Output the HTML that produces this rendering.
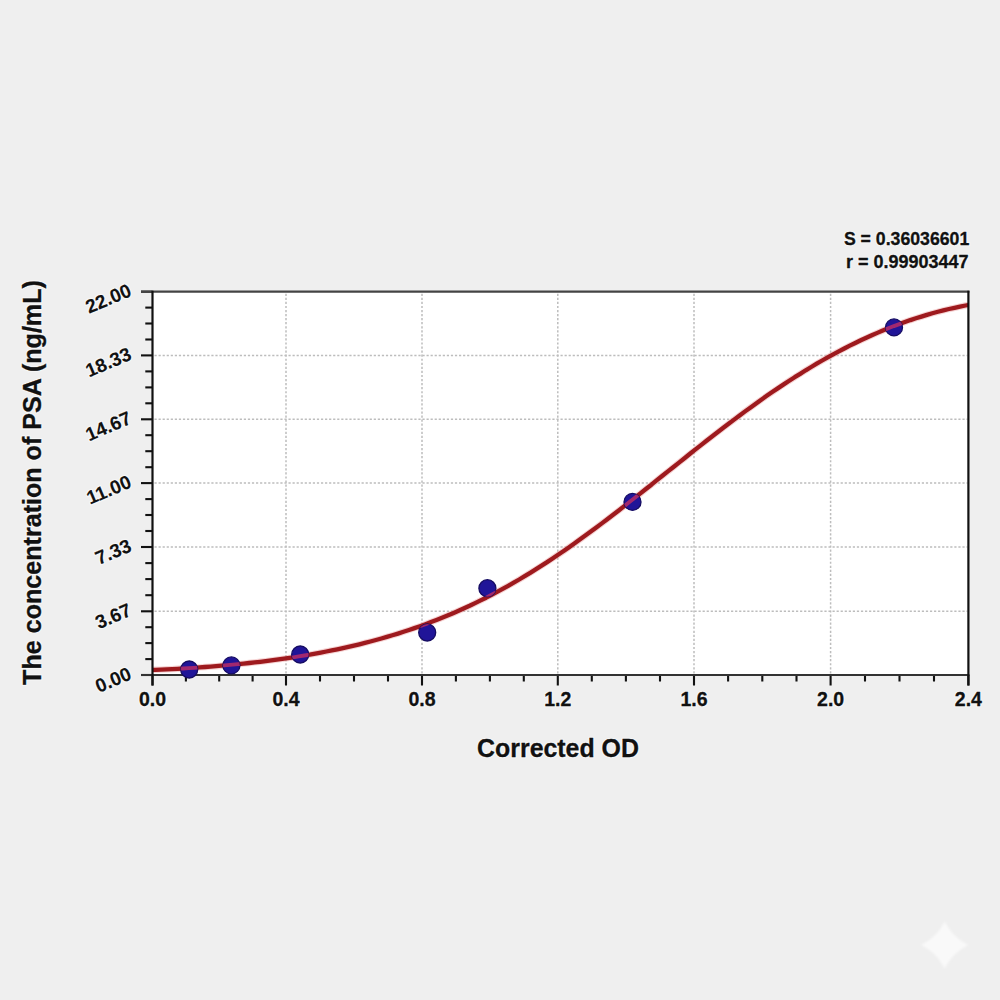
<!DOCTYPE html>
<html><head><meta charset="utf-8"><style>
html,body{margin:0;padding:0;background:#efefef;}
svg{display:block;}
text{font-family:"Liberation Sans",Arial,sans-serif;font-weight:bold;fill:#111;stroke:#111;stroke-width:0.3px;}
.grid{stroke:#bdbdbd;stroke-width:1.5;stroke-dasharray:2.2 1.86;}
.tk{stroke:#111;stroke-width:2.1;}
.xl{font-size:19.5px;text-anchor:middle;}
.yl{font-size:19px;text-anchor:end;dominant-baseline:central;stroke-width:0.1px;}
.xt{font-size:24.9px;text-anchor:middle;}
.yt{font-size:25.1px;text-anchor:middle;}
.st{font-size:18px;text-anchor:end;}
</style></head><body>
<svg width="1000" height="1000" viewBox="0 0 1000 1000">
<rect width="1000" height="1000" fill="#efefef"/>
<rect x="152.5" y="291.7" width="815.9" height="383.3" fill="#ffffff"/>
<line x1="286" y1="293.7" x2="286" y2="674" class="grid"/>
<line x1="422" y1="293.7" x2="422" y2="674" class="grid"/>
<line x1="557.8" y1="293.7" x2="557.8" y2="674" class="grid"/>
<line x1="694" y1="293.7" x2="694" y2="674" class="grid"/>
<line x1="830.6" y1="293.7" x2="830.6" y2="674" class="grid"/>
<line x1="154.5" y1="611.3" x2="967.4" y2="611.3" class="grid"/>
<line x1="154.5" y1="547" x2="967.4" y2="547" class="grid"/>
<line x1="154.5" y1="483.1" x2="967.4" y2="483.1" class="grid"/>
<line x1="154.5" y1="419.3" x2="967.4" y2="419.3" class="grid"/>
<line x1="154.5" y1="355.4" x2="967.4" y2="355.4" class="grid"/>
<clipPath id="pc"><rect x="152.5" y="291.7" width="815.9" height="383.3"/></clipPath>
<path d="M150.0,670.0 L155.5,669.8 L161.0,669.6 L166.5,669.3 L172.0,669.1 L177.6,668.8 L183.1,668.5 L188.6,668.1 L194.1,667.8 L199.6,667.4 L205.1,667.0 L210.6,666.6 L216.1,666.2 L221.6,665.7 L227.1,665.2 L232.7,664.7 L238.2,664.2 L243.7,663.6 L249.2,663.0 L254.7,662.4 L260.2,661.8 L265.7,661.1 L271.2,660.4 L276.7,659.6 L282.2,658.9 L287.8,658.1 L293.3,657.3 L298.8,656.4 L304.3,655.5 L309.8,654.6 L315.3,653.6 L320.8,652.6 L326.3,651.5 L331.8,650.4 L337.3,649.3 L342.9,648.1 L348.4,646.9 L353.9,645.6 L359.4,644.3 L364.9,642.9 L370.4,641.5 L375.9,640.0 L381.4,638.5 L386.9,636.9 L392.4,635.3 L398.0,633.6 L403.5,631.8 L409.0,630.0 L414.5,628.1 L420.0,626.2 L425.5,624.2 L431.0,622.1 L436.5,620.0 L442.0,617.8 L447.5,615.5 L453.1,613.2 L458.6,610.8 L464.1,608.3 L469.6,605.8 L475.1,603.1 L480.6,600.4 L486.1,597.7 L491.6,594.8 L497.1,591.9 L502.6,588.9 L508.2,585.8 L513.7,582.7 L519.2,579.5 L524.7,576.2 L530.2,572.8 L535.7,569.4 L541.2,565.9 L546.7,562.4 L552.2,558.7 L557.7,555.0 L563.3,551.3 L568.8,547.4 L574.3,543.6 L579.8,539.6 L585.3,535.6 L590.8,531.6 L596.3,527.5 L601.8,523.4 L607.3,519.2 L612.8,515.0 L618.4,510.7 L623.9,506.4 L629.4,502.1 L634.9,497.8 L640.4,493.4 L645.9,489.0 L651.4,484.7 L656.9,480.2 L662.4,475.8 L667.9,471.4 L673.5,467.0 L679.0,462.6 L684.5,458.2 L690.0,453.8 L695.5,449.4 L701.0,445.1 L706.5,440.8 L712.0,436.5 L717.5,432.2 L723.0,428.0 L728.6,423.8 L734.1,419.6 L739.6,415.5 L745.1,411.4 L750.6,407.4 L756.1,403.4 L761.6,399.5 L767.1,395.6 L772.6,391.8 L778.1,388.1 L783.7,384.4 L789.2,380.8 L794.7,377.2 L800.2,373.8 L805.7,370.3 L811.2,367.0 L816.7,363.7 L822.2,360.5 L827.7,357.4 L833.2,354.4 L838.8,351.4 L844.3,348.5 L849.8,345.7 L855.3,343.0 L860.8,340.3 L866.3,337.8 L871.8,335.3 L877.3,332.9 L882.8,330.5 L888.3,328.3 L893.9,326.1 L899.4,324.1 L904.9,322.1 L910.4,320.1 L915.9,318.3 L921.4,316.6 L926.9,314.9 L932.4,313.3 L937.9,311.8 L943.4,310.4 L949.0,309.0 L954.5,307.8 L960.0,306.6 L965.5,305.5 L971.0,304.5" clip-path="url(#pc)" fill="none" stroke="#eaa0a0" stroke-opacity="0.45" stroke-width="6.4" stroke-linejoin="round"/>
<path d="M150.0,670.0 L155.5,669.8 L161.0,669.6 L166.5,669.3 L172.0,669.1 L177.6,668.8 L183.1,668.5 L188.6,668.1 L194.1,667.8 L199.6,667.4 L205.1,667.0 L210.6,666.6 L216.1,666.2 L221.6,665.7 L227.1,665.2 L232.7,664.7 L238.2,664.2 L243.7,663.6 L249.2,663.0 L254.7,662.4 L260.2,661.8 L265.7,661.1 L271.2,660.4 L276.7,659.6 L282.2,658.9 L287.8,658.1 L293.3,657.3 L298.8,656.4 L304.3,655.5 L309.8,654.6 L315.3,653.6 L320.8,652.6 L326.3,651.5 L331.8,650.4 L337.3,649.3 L342.9,648.1 L348.4,646.9 L353.9,645.6 L359.4,644.3 L364.9,642.9 L370.4,641.5 L375.9,640.0 L381.4,638.5 L386.9,636.9 L392.4,635.3 L398.0,633.6 L403.5,631.8 L409.0,630.0 L414.5,628.1 L420.0,626.2 L425.5,624.2 L431.0,622.1 L436.5,620.0 L442.0,617.8 L447.5,615.5 L453.1,613.2 L458.6,610.8 L464.1,608.3 L469.6,605.8 L475.1,603.1 L480.6,600.4 L486.1,597.7 L491.6,594.8 L497.1,591.9 L502.6,588.9 L508.2,585.8 L513.7,582.7 L519.2,579.5 L524.7,576.2 L530.2,572.8 L535.7,569.4 L541.2,565.9 L546.7,562.4 L552.2,558.7 L557.7,555.0 L563.3,551.3 L568.8,547.4 L574.3,543.6 L579.8,539.6 L585.3,535.6 L590.8,531.6 L596.3,527.5 L601.8,523.4 L607.3,519.2 L612.8,515.0 L618.4,510.7 L623.9,506.4 L629.4,502.1 L634.9,497.8 L640.4,493.4 L645.9,489.0 L651.4,484.7 L656.9,480.2 L662.4,475.8 L667.9,471.4 L673.5,467.0 L679.0,462.6 L684.5,458.2 L690.0,453.8 L695.5,449.4 L701.0,445.1 L706.5,440.8 L712.0,436.5 L717.5,432.2 L723.0,428.0 L728.6,423.8 L734.1,419.6 L739.6,415.5 L745.1,411.4 L750.6,407.4 L756.1,403.4 L761.6,399.5 L767.1,395.6 L772.6,391.8 L778.1,388.1 L783.7,384.4 L789.2,380.8 L794.7,377.2 L800.2,373.8 L805.7,370.3 L811.2,367.0 L816.7,363.7 L822.2,360.5 L827.7,357.4 L833.2,354.4 L838.8,351.4 L844.3,348.5 L849.8,345.7 L855.3,343.0 L860.8,340.3 L866.3,337.8 L871.8,335.3 L877.3,332.9 L882.8,330.5 L888.3,328.3 L893.9,326.1 L899.4,324.1 L904.9,322.1 L910.4,320.1 L915.9,318.3 L921.4,316.6 L926.9,314.9 L932.4,313.3 L937.9,311.8 L943.4,310.4 L949.0,309.0 L954.5,307.8 L960.0,306.6 L965.5,305.5 L971.0,304.5" clip-path="url(#pc)" fill="none" stroke="#9e1a1e" stroke-width="4.3" stroke-linejoin="round"/>
<line x1="185.9" y1="675" x2="185.9" y2="681.5" class="tk"/>
<line x1="219.2" y1="675" x2="219.2" y2="681.5" class="tk"/>
<line x1="252.6" y1="675" x2="252.6" y2="681.5" class="tk"/>
<line x1="145.3" y1="659.1" x2="152.5" y2="659.1" class="tk"/>
<line x1="145.3" y1="643.1" x2="152.5" y2="643.1" class="tk"/>
<line x1="145.3" y1="627.2" x2="152.5" y2="627.2" class="tk"/>
<line x1="320.0" y1="675" x2="320.0" y2="681.5" class="tk"/>
<line x1="354.0" y1="675" x2="354.0" y2="681.5" class="tk"/>
<line x1="388.0" y1="675" x2="388.0" y2="681.5" class="tk"/>
<line x1="145.3" y1="595.2" x2="152.5" y2="595.2" class="tk"/>
<line x1="145.3" y1="579.1" x2="152.5" y2="579.1" class="tk"/>
<line x1="145.3" y1="563.1" x2="152.5" y2="563.1" class="tk"/>
<line x1="455.9" y1="675" x2="455.9" y2="681.5" class="tk"/>
<line x1="489.9" y1="675" x2="489.9" y2="681.5" class="tk"/>
<line x1="523.8" y1="675" x2="523.8" y2="681.5" class="tk"/>
<line x1="145.3" y1="531.0" x2="152.5" y2="531.0" class="tk"/>
<line x1="145.3" y1="515.0" x2="152.5" y2="515.0" class="tk"/>
<line x1="145.3" y1="499.1" x2="152.5" y2="499.1" class="tk"/>
<line x1="591.8" y1="675" x2="591.8" y2="681.5" class="tk"/>
<line x1="625.9" y1="675" x2="625.9" y2="681.5" class="tk"/>
<line x1="660.0" y1="675" x2="660.0" y2="681.5" class="tk"/>
<line x1="145.3" y1="467.2" x2="152.5" y2="467.2" class="tk"/>
<line x1="145.3" y1="451.2" x2="152.5" y2="451.2" class="tk"/>
<line x1="145.3" y1="435.2" x2="152.5" y2="435.2" class="tk"/>
<line x1="728.1" y1="675" x2="728.1" y2="681.5" class="tk"/>
<line x1="762.3" y1="675" x2="762.3" y2="681.5" class="tk"/>
<line x1="796.5" y1="675" x2="796.5" y2="681.5" class="tk"/>
<line x1="145.3" y1="403.3" x2="152.5" y2="403.3" class="tk"/>
<line x1="145.3" y1="387.4" x2="152.5" y2="387.4" class="tk"/>
<line x1="145.3" y1="371.4" x2="152.5" y2="371.4" class="tk"/>
<line x1="865.0" y1="675" x2="865.0" y2="681.5" class="tk"/>
<line x1="899.5" y1="675" x2="899.5" y2="681.5" class="tk"/>
<line x1="934.0" y1="675" x2="934.0" y2="681.5" class="tk"/>
<line x1="145.3" y1="339.5" x2="152.5" y2="339.5" class="tk"/>
<line x1="145.3" y1="323.5" x2="152.5" y2="323.5" class="tk"/>
<line x1="145.3" y1="307.6" x2="152.5" y2="307.6" class="tk"/>
<line x1="152.5" y1="675" x2="152.5" y2="685.5" class="tk"/>
<line x1="286" y1="675" x2="286" y2="685.5" class="tk"/>
<line x1="422" y1="675" x2="422" y2="685.5" class="tk"/>
<line x1="557.8" y1="675" x2="557.8" y2="685.5" class="tk"/>
<line x1="694" y1="675" x2="694" y2="685.5" class="tk"/>
<line x1="830.6" y1="675" x2="830.6" y2="685.5" class="tk"/>
<line x1="968.4" y1="675" x2="968.4" y2="685.5" class="tk"/>
<line x1="141" y1="675" x2="152.5" y2="675" class="tk"/>
<line x1="141" y1="611.3" x2="152.5" y2="611.3" class="tk"/>
<line x1="141" y1="547" x2="152.5" y2="547" class="tk"/>
<line x1="141" y1="483.1" x2="152.5" y2="483.1" class="tk"/>
<line x1="141" y1="419.3" x2="152.5" y2="419.3" class="tk"/>
<line x1="141" y1="355.4" x2="152.5" y2="355.4" class="tk"/>
<line x1="141" y1="291.7" x2="152.5" y2="291.7" class="tk"/>
<line x1="141" y1="291.7" x2="969.4" y2="291.7" stroke="#444" stroke-width="2.2"/>
<line x1="141" y1="675" x2="969.4" y2="675" stroke="#333" stroke-width="2.2"/>
<line x1="152.5" y1="290.7" x2="152.5" y2="685.5" stroke="#111" stroke-width="2.2"/>
<line x1="968.4" y1="290.7" x2="968.4" y2="685.5" stroke="#111" stroke-width="2.2"/>
<circle cx="189.2" cy="669.5" r="8.5" fill="#201598" stroke="#150c62" stroke-width="1.3"/>
<circle cx="231.4" cy="665.4" r="8.5" fill="#201598" stroke="#150c62" stroke-width="1.3"/>
<circle cx="300.2" cy="654.5" r="8.5" fill="#201598" stroke="#150c62" stroke-width="1.3"/>
<circle cx="427.2" cy="632.5" r="8.5" fill="#201598" stroke="#150c62" stroke-width="1.3"/>
<circle cx="487.4" cy="588.2" r="8.5" fill="#201598" stroke="#150c62" stroke-width="1.3"/>
<circle cx="632.5" cy="501.9" r="8.5" fill="#201598" stroke="#150c62" stroke-width="1.3"/>
<circle cx="894" cy="327.4" r="8.5" fill="#201598" stroke="#150c62" stroke-width="1.3"/>
<clipPath id="dc"><circle cx="189.2" cy="669.5" r="8.6"/><circle cx="231.4" cy="665.4" r="8.6"/><circle cx="300.2" cy="654.5" r="8.6"/><circle cx="427.2" cy="632.5" r="8.6"/><circle cx="487.4" cy="588.2" r="8.6"/><circle cx="632.5" cy="501.9" r="8.6"/><circle cx="894" cy="327.4" r="8.6"/></clipPath>
<path d="M150.0,670.0 L155.5,669.8 L161.0,669.6 L166.5,669.3 L172.0,669.1 L177.6,668.8 L183.1,668.5 L188.6,668.1 L194.1,667.8 L199.6,667.4 L205.1,667.0 L210.6,666.6 L216.1,666.2 L221.6,665.7 L227.1,665.2 L232.7,664.7 L238.2,664.2 L243.7,663.6 L249.2,663.0 L254.7,662.4 L260.2,661.8 L265.7,661.1 L271.2,660.4 L276.7,659.6 L282.2,658.9 L287.8,658.1 L293.3,657.3 L298.8,656.4 L304.3,655.5 L309.8,654.6 L315.3,653.6 L320.8,652.6 L326.3,651.5 L331.8,650.4 L337.3,649.3 L342.9,648.1 L348.4,646.9 L353.9,645.6 L359.4,644.3 L364.9,642.9 L370.4,641.5 L375.9,640.0 L381.4,638.5 L386.9,636.9 L392.4,635.3 L398.0,633.6 L403.5,631.8 L409.0,630.0 L414.5,628.1 L420.0,626.2 L425.5,624.2 L431.0,622.1 L436.5,620.0 L442.0,617.8 L447.5,615.5 L453.1,613.2 L458.6,610.8 L464.1,608.3 L469.6,605.8 L475.1,603.1 L480.6,600.4 L486.1,597.7 L491.6,594.8 L497.1,591.9 L502.6,588.9 L508.2,585.8 L513.7,582.7 L519.2,579.5 L524.7,576.2 L530.2,572.8 L535.7,569.4 L541.2,565.9 L546.7,562.4 L552.2,558.7 L557.7,555.0 L563.3,551.3 L568.8,547.4 L574.3,543.6 L579.8,539.6 L585.3,535.6 L590.8,531.6 L596.3,527.5 L601.8,523.4 L607.3,519.2 L612.8,515.0 L618.4,510.7 L623.9,506.4 L629.4,502.1 L634.9,497.8 L640.4,493.4 L645.9,489.0 L651.4,484.7 L656.9,480.2 L662.4,475.8 L667.9,471.4 L673.5,467.0 L679.0,462.6 L684.5,458.2 L690.0,453.8 L695.5,449.4 L701.0,445.1 L706.5,440.8 L712.0,436.5 L717.5,432.2 L723.0,428.0 L728.6,423.8 L734.1,419.6 L739.6,415.5 L745.1,411.4 L750.6,407.4 L756.1,403.4 L761.6,399.5 L767.1,395.6 L772.6,391.8 L778.1,388.1 L783.7,384.4 L789.2,380.8 L794.7,377.2 L800.2,373.8 L805.7,370.3 L811.2,367.0 L816.7,363.7 L822.2,360.5 L827.7,357.4 L833.2,354.4 L838.8,351.4 L844.3,348.5 L849.8,345.7 L855.3,343.0 L860.8,340.3 L866.3,337.8 L871.8,335.3 L877.3,332.9 L882.8,330.5 L888.3,328.3 L893.9,326.1 L899.4,324.1 L904.9,322.1 L910.4,320.1 L915.9,318.3 L921.4,316.6 L926.9,314.9 L932.4,313.3 L937.9,311.8 L943.4,310.4 L949.0,309.0 L954.5,307.8 L960.0,306.6 L965.5,305.5 L971.0,304.5" clip-path="url(#dc)" fill="none" stroke="#d8305e" stroke-opacity="0.7" stroke-width="3.8" stroke-linejoin="round"/>
<text style="fill:none;stroke:#ffffff;stroke-width:2.6px;stroke-opacity:0.45;stroke-linejoin:round" x="152.5" y="706" class="xl">0.0</text>
<text x="152.5" y="706" class="xl">0.0</text>
<text style="fill:none;stroke:#ffffff;stroke-width:2.6px;stroke-opacity:0.45;stroke-linejoin:round" x="286" y="706" class="xl">0.4</text>
<text x="286" y="706" class="xl">0.4</text>
<text style="fill:none;stroke:#ffffff;stroke-width:2.6px;stroke-opacity:0.45;stroke-linejoin:round" x="422" y="706" class="xl">0.8</text>
<text x="422" y="706" class="xl">0.8</text>
<text style="fill:none;stroke:#ffffff;stroke-width:2.6px;stroke-opacity:0.45;stroke-linejoin:round" x="557.8" y="706" class="xl">1.2</text>
<text x="557.8" y="706" class="xl">1.2</text>
<text style="fill:none;stroke:#ffffff;stroke-width:2.6px;stroke-opacity:0.45;stroke-linejoin:round" x="694" y="706" class="xl">1.6</text>
<text x="694" y="706" class="xl">1.6</text>
<text style="fill:none;stroke:#ffffff;stroke-width:2.6px;stroke-opacity:0.45;stroke-linejoin:round" x="830.6" y="706" class="xl">2.0</text>
<text x="830.6" y="706" class="xl">2.0</text>
<text style="fill:none;stroke:#ffffff;stroke-width:2.6px;stroke-opacity:0.45;stroke-linejoin:round" x="968.4" y="706" class="xl">2.4</text>
<text x="968.4" y="706" class="xl">2.4</text>
<text style="fill:none;stroke:#ffffff;stroke-width:2.6px;stroke-opacity:0.45;stroke-linejoin:round" transform="translate(130.2,672.6) rotate(-23)" class="yl">0.00</text>
<text transform="translate(130.2,672.6) rotate(-23)" class="yl">0.00</text>
<text style="fill:none;stroke:#ffffff;stroke-width:2.6px;stroke-opacity:0.45;stroke-linejoin:round" transform="translate(130.2,608.9) rotate(-23)" class="yl">3.67</text>
<text transform="translate(130.2,608.9) rotate(-23)" class="yl">3.67</text>
<text style="fill:none;stroke:#ffffff;stroke-width:2.6px;stroke-opacity:0.45;stroke-linejoin:round" transform="translate(130.2,544.6) rotate(-23)" class="yl">7.33</text>
<text transform="translate(130.2,544.6) rotate(-23)" class="yl">7.33</text>
<text style="fill:none;stroke:#ffffff;stroke-width:2.6px;stroke-opacity:0.45;stroke-linejoin:round" transform="translate(130.2,480.70000000000005) rotate(-23)" class="yl">11.00</text>
<text transform="translate(130.2,480.70000000000005) rotate(-23)" class="yl">11.00</text>
<text style="fill:none;stroke:#ffffff;stroke-width:2.6px;stroke-opacity:0.45;stroke-linejoin:round" transform="translate(130.2,416.90000000000003) rotate(-23)" class="yl">14.67</text>
<text transform="translate(130.2,416.90000000000003) rotate(-23)" class="yl">14.67</text>
<text style="fill:none;stroke:#ffffff;stroke-width:2.6px;stroke-opacity:0.45;stroke-linejoin:round" transform="translate(130.2,353.0) rotate(-23)" class="yl">18.33</text>
<text transform="translate(130.2,353.0) rotate(-23)" class="yl">18.33</text>
<text style="fill:none;stroke:#ffffff;stroke-width:2.6px;stroke-opacity:0.45;stroke-linejoin:round" transform="translate(130.2,289.3) rotate(-23)" class="yl">22.00</text>
<text transform="translate(130.2,289.3) rotate(-23)" class="yl">22.00</text>
<text style="fill:none;stroke:#ffffff;stroke-width:2.6px;stroke-opacity:0.45;stroke-linejoin:round" x="558" y="756.6" class="xt">Corrected OD</text>
<text x="558" y="756.6" class="xt">Corrected OD</text>
<text style="fill:none;stroke:#ffffff;stroke-width:2.6px;stroke-opacity:0.45;stroke-linejoin:round" transform="translate(41.2,482.5) rotate(-90)" class="yt">The concentration of PSA (ng/mL)</text>
<text transform="translate(41.2,482.5) rotate(-90)" class="yt">The concentration of PSA (ng/mL)</text>
<text x="969.3" y="245" class="st" style="font-size:17.7px;fill:none;stroke:#ffffff;stroke-width:2.6px;stroke-opacity:0.45;stroke-linejoin:round">S = 0.36036601</text>
<text x="969.3" y="245" class="st" style="font-size:17.7px">S = 0.36036601</text>
<text style="fill:none;stroke:#ffffff;stroke-width:2.6px;stroke-opacity:0.45;stroke-linejoin:round" x="968.6" y="268" class="st">r = 0.99903447</text>
<text x="968.6" y="268" class="st">r = 0.99903447</text>
<filter id="sb" x="-20%" y="-20%" width="140%" height="140%"><feGaussianBlur stdDeviation="0.9"/></filter><path d="M944.7,921.5 C950.2,932.2 957.5,939.5 968.2,945.0 C957.5,950.5 950.2,957.8 944.7,968.5 C939.2,957.8 931.9,950.5 921.2,945.0 C931.9,939.5 939.2,932.2 944.7,921.5Z" fill="#f9f9f9" filter="url(#sb)"/>
</svg>
</body></html>
